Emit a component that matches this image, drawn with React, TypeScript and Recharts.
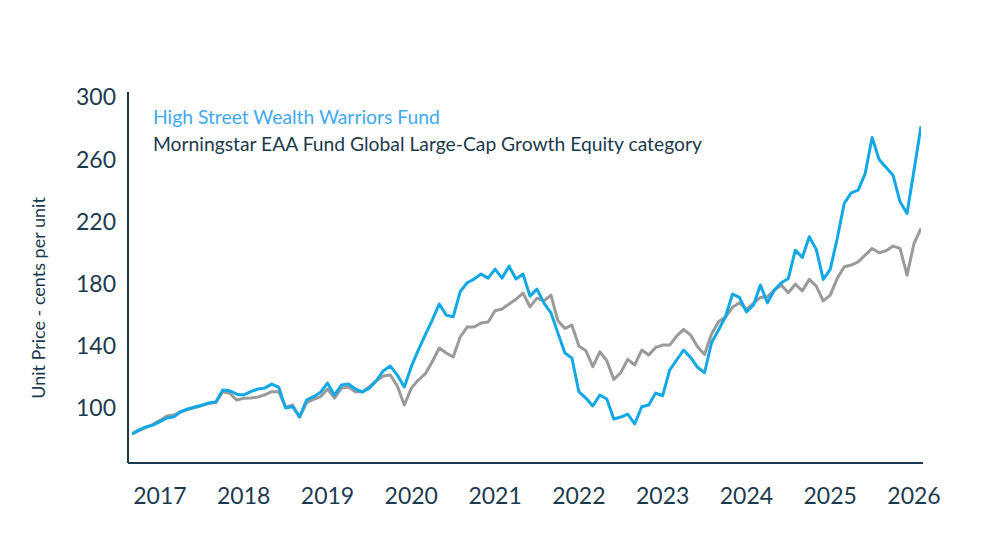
import React from 'react';
import { LineChart, Line, XAxis, YAxis, Legend } from 'recharts';

const START_YEAR = 2016;
const START_MONTH = 8; // August 2016, month-end values

const fundValues = [
  83.3, 85.9, 87.8, 89, 91.2, 93.6, 94.4, 97.6, 99.4, 100.6,
  101.8, 103.2, 103.9, 111.6, 111.1, 108.9, 108.4, 110.5, 112.2, 112.8,
  115.4, 113.5, 100, 100.8, 94.2, 105.1, 107.3, 110.1, 116, 108.4,
  114.8, 115.4, 112.2, 110.3, 112.8, 117.6, 124, 127, 121.2, 113.5,
  126.6, 137.3, 147, 156.6, 166.9, 159.8, 158.7, 174.8, 180.6, 183,
  186.2, 183.6, 189.4, 183.6, 191.3, 183, 186.2, 172, 176.5, 167.5,
  161.3, 148.2, 135.4, 132.2, 110.5, 106.4, 101.3, 108.4, 105.8, 92.9,
  94.2, 96.1, 89.7, 100.8, 101.9, 109.6, 107.9, 124.4, 130.9, 137.3,
  132.6, 126.2, 122.7, 142, 150.2, 158.7, 173.3, 171.2, 161.9, 166.2,
  179.1, 167.7, 175.9, 180.6, 183.4, 201.6, 196.9, 210.2, 202.1, 182.8,
  189.2, 209.1, 231.6, 238.5, 240.2, 250.9, 274.1, 260, 254.8, 249.8,
  232.7, 225.2, 253, 281.4,
];

const categoryValues = [
  83.3, 85.5, 87.5, 89.5, 92, 94.8, 95.5, 97.6, 99, 100.3,
  101.5, 103, 103.5, 110.5, 109.5, 105.1, 106.2, 106.5, 107, 108.5,
  110.5, 110.5, 100.6, 102, 94.2, 103.4, 105.5, 107.3, 112.2, 106.4,
  112.8, 113.5, 110.5, 110.5, 113.7, 117.6, 120.6, 121.2, 114.1, 101.9,
  112.8, 118, 121.9, 129.8, 138.6, 135.4, 132.8, 145.7, 152.1, 152.1,
  154.7, 155.3, 162.6, 163.7, 166.9, 170, 174, 165.1, 170.7, 169,
  172.7, 156.1, 151.2, 153.4, 139.9, 136.9, 126.6, 136.2, 130.4, 118.4,
  122.7, 131.3, 127.7, 137.3, 134.1, 139, 140.5, 140.5, 146.3, 150.6,
  146.9, 139.4, 134.5, 147.6, 155.5, 158.5, 164.8, 167.7, 163.5, 167.3,
  171.2, 171.6, 175.9, 179.1, 174.2, 179.7, 175.4, 182.8, 178.5, 169,
  172.7, 183.4, 190.9, 192, 194.1, 198.4, 202.7, 199.9, 201.2, 204.2,
  202.7, 185.5, 205.9, 215.6,
];

const yearTicks = [2017, 2018, 2019, 2020, 2021, 2022, 2023, 2024, 2025, 2026];
const priceTicks = [100, 140, 180, 220, 260, 300];

const FUND_NAME = 'High Street Wealth Warriors Fund';
const CATEGORY_NAME = 'Morningstar EAA Fund Global Large-Cap Growth Equity category';

const data = fundValues.map((v, i) => ({
  t: START_YEAR + (START_MONTH + i) / 12,
  fund: v,
  category: categoryValues[i],
}));

const NAVY = '#1c3a4e';
const BLUE = '#12a8e6';
const GREY = '#9a9a9a';
const FONT = 'Lato, "Open Sans", sans-serif';

const legendColors: Record<string, string> = {
  fund: '#3fa9f2',
  category: NAVY,
};

const renderLegend = (props: any) => {
  const { payload } = props;
  const order = ['fund', 'category'];
  const items = [...payload].sort(
    (a: any, b: any) => order.indexOf(a.dataKey) - order.indexOf(b.dataKey)
  );
  return (
    <div style={{ fontFamily: FONT, fontSize: 19.3, lineHeight: '27px', whiteSpace: 'nowrap' }}>
      {items.map((p: any) => (
        <div key={p.dataKey} style={{ color: legendColors[p.dataKey] }}>
          {p.value}
        </div>
      ))}
    </div>
  );
};

const YLabel = () => (
  <text
    x={32}
    y={290}
    transform="rotate(-90 32 290)"
    textAnchor="middle"
    dominantBaseline="middle"
    fill={NAVY}
    fontFamily={FONT}
    fontSize={18}
  >
    Unit Price - cents per unit
  </text>
);

export default function App() {
  return (
    <div style={{ width: 972, height: 540, background: '#fff' }}>
      <LineChart
        width={972}
        height={540}
        data={data}
        margin={{ top: 84, right: 57, bottom: 45, left: 0 }}
      >
        <XAxis
          dataKey="t"
          type="number"
          domain={[START_YEAR + START_MONTH / 12, START_YEAR + (START_MONTH + fundValues.length - 1) / 12]}
          ticks={yearTicks}
          tickFormatter={(v: number) => String(Math.round(v))}
          padding={{ left: 4, right: 2 }}
          height={40}
          axisLine={{ stroke: NAVY, strokeWidth: 2 }}
          tickLine={false}
          tickSize={0}
          tickMargin={25}
          tick={{ fill: NAVY, fontFamily: FONT, fontSize: 23 }}
          allowDataOverflow
        />
        <YAxis
          type="number"
          domain={[64.6, 303.4]}
          ticks={priceTicks}
          width={120}
          axisLine={{ stroke: NAVY, strokeWidth: 2 }}
          tickLine={false}
          tickSize={0}
          tickMargin={12}
          tick={{ fill: NAVY, fontFamily: FONT, fontSize: 23 }}
          label={<YLabel />}
          allowDataOverflow
        />
        <Legend
          layout="horizontal"
          verticalAlign="middle"
          align="center"
          content={renderLegend}
          wrapperStyle={{ top: 95, left: 145, width: 700 }}
        />
        <Line
          dataKey="category"
          name={CATEGORY_NAME}
          stroke={GREY}
          strokeWidth={3}
          dot={false}
          isAnimationActive={false}
          strokeLinejoin="round"
        />
        <Line
          dataKey="fund"
          name={FUND_NAME}
          stroke={BLUE}
          strokeWidth={3}
          dot={false}
          isAnimationActive={false}
          strokeLinejoin="round"
        />
      </LineChart>
    </div>
  );
}
